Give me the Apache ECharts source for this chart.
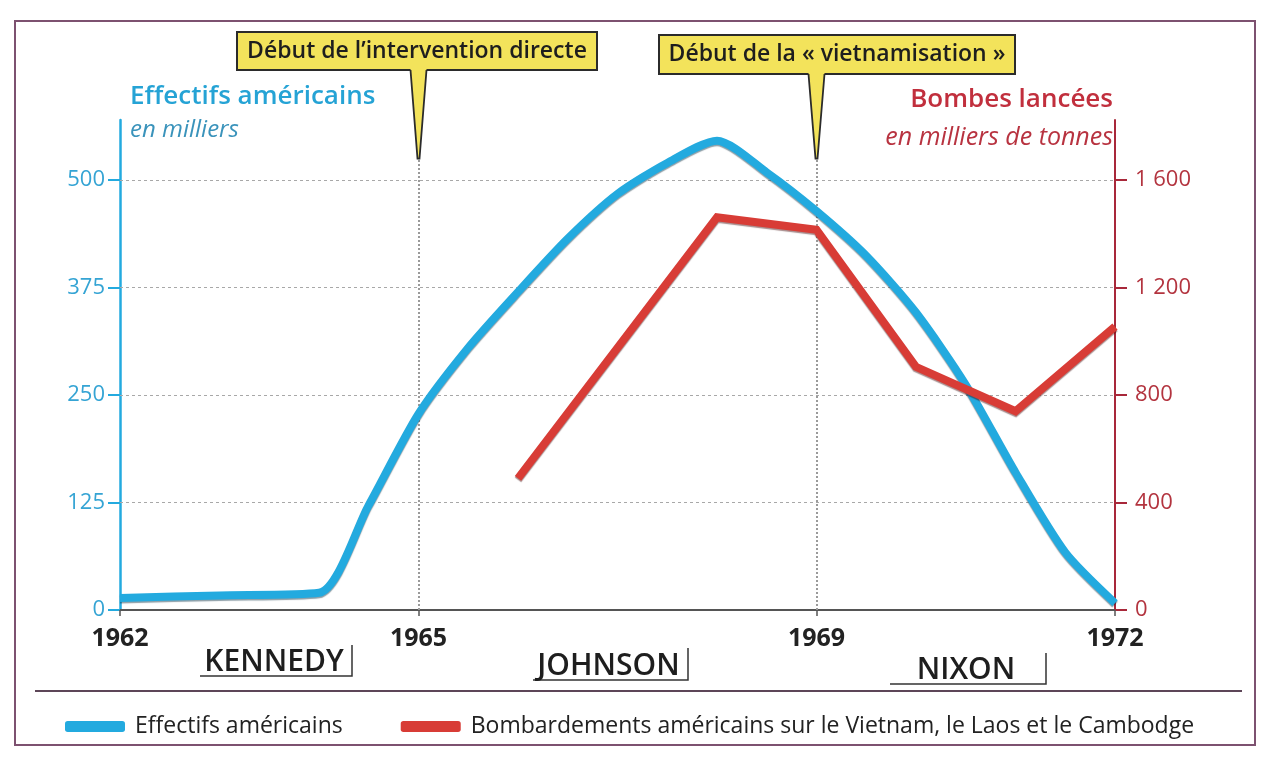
<!DOCTYPE html>
<html>
<head>
<meta charset="utf-8">
<script src="https://cdn.jsdelivr.net/npm/echarts@6/dist/echarts.min.js"></script>
<style>
  html, body { margin: 0; padding: 0; background: #fff; }
  #chart { width: 1267px; height: 758px; }
</style>
</head>
<body>
<div id="chart"></div>
<script>
// effectifs américains (milliers)
const troopYears = [1962, 1963, 1964, 1964.5, 1965, 1965.5, 1966, 1966.5, 1967, 1967.5, 1968, 1968.5, 1969, 1969.5, 1970, 1970.5, 1971, 1971.5, 1972];
const troopValues = [14, 17, 20, 122, 228, 305, 370, 432, 484, 520, 546, 509, 464, 412, 346, 262, 160, 67, 8];

// bombes lancées (milliers de tonnes)
const bombYears = [1966, 1968, 1969, 1970, 1971, 1972];
const bombValues = [490, 1462, 1415, 905, 740, 1055];

const yearTicks = [1962, 1965, 1969, 1972];
const troopTicks = [0, 125, 250, 375, 500];
const bombTicks = [0, 400, 800, 1200, 1600];

const milestoneYears = [1965, 1969];
const milestoneTexts = ['Début de l\u2019intervention directe', 'Début de la « vietnamisation »'];
const presidents = ['KENNEDY', 'JOHNSON', 'NIXON'];

const seriesNames = ['Effectifs américains', 'Bombardements américains sur le Vietnam, le Laos et le Cambodge'];

const BLUE = '#23aadf';
const RED = '#d83c36';
const FONT = '"Open Sans", "Noto Sans", sans-serif';

const chart = echarts.init(document.getElementById('chart'));

const fmtThousands = v => String(v).replace(/\B(?=(\d{3})+$)/g, ' ');

// gridlines + milestone verticals as markLines
const gridMarks = troopTicks.filter(v => v > 0).map(v => ({ yAxis: v }));
const milestoneMarks = milestoneYears.map(y => [
  { coord: [y, 0], lineStyle: { color: '#9a9a9a', width: 2, type: [2, 2] } },
  { coord: [y, 525] }
]);

const option = {
  backgroundColor: '#fff',
  animation: false,
  grid: { left: 120, right: 152, top: 120, bottom: 148, containLabel: false },
  legend: {
    left: 60,
    top: 710,
    itemWidth: 60,
    itemHeight: 11,
    itemGap: 58,
    icon: 'roundRect',
    textStyle: { fontFamily: FONT, fontSize: 23, color: '#222', padding: [0, 0, 0, 5] },
    data: seriesNames
  },
  xAxis: {
    type: 'value',
    min: 1962,
    max: 1972,
    axisLine: { lineStyle: { color: '#555', width: 2 } },
    axisTick: { show: true, length: 6, lineStyle: { color: '#555', width: 1.5 }, customValues: yearTicks },
    axisLabel: {
      customValues: yearTicks,
      margin: 16,
      fontFamily: FONT,
      fontSize: 25,
      fontWeight: 'bold',
      color: '#222',
      formatter: v => String(v)
    },
    splitLine: { show: false }
  },
  yAxis: [
    {
      type: 'value',
      min: 0,
      max: 570,
      position: 'left',
      axisLine: { show: true, lineStyle: { color: BLUE, width: 2.5 } },
      axisTick: { show: true, length: 12, lineStyle: { color: BLUE, width: 2 }, customValues: troopTicks },
      axisLabel: { customValues: troopTicks, margin: 15, fontFamily: FONT, fontSize: 22, color: '#35a4d4' },
      splitLine: { show: false }
    },
    {
      type: 'value',
      min: 0,
      max: 1824,
      position: 'right',
      axisLine: { show: true, lineStyle: { color: '#a8283a', width: 2 } },
      axisTick: { show: true, length: 12, lineStyle: { color: '#a8283a', width: 2 }, customValues: bombTicks },
      axisLabel: {
        customValues: bombTicks,
        margin: 20,
        fontFamily: FONT,
        fontSize: 22,
        color: '#b3343f',
        formatter: fmtThousands
      },
      splitLine: { show: false }
    }
  ],
  series: [
    {
      name: seriesNames[0],
      type: 'line',
      yAxisIndex: 0,
      z: 3,
      smooth: 0.25,
      showSymbol: false,
      symbol: 'none',
      color: BLUE,
      lineStyle: { color: BLUE, width: 8, shadowColor: 'rgba(0,40,60,0.45)', shadowBlur: 1, shadowOffsetY: 1.5 },
      data: troopYears.map((y, i) => [y, troopValues[i]]),
      markLine: {
        silent: true,
        symbol: 'none',
        z: 1,
        label: { show: false },
        lineStyle: { color: '#a8a8a8', width: 1.2, type: [3, 3] },
        data: gridMarks.concat(milestoneMarks)
      }
    },
    {
      name: seriesNames[1],
      type: 'line',
      yAxisIndex: 1,
      z: 4,
      showSymbol: false,
      symbol: 'none',
      color: RED,
      lineStyle: { color: RED, width: 8, join: 'miter', shadowColor: 'rgba(60,0,0,0.45)', shadowBlur: 1, shadowOffsetY: 1.5 },
      data: bombYears.map((y, i) => [y, bombValues[i]])
    }
  ]
};

chart.setOption(option);

// annotations drawn on top
const g = [];

// outer frame and legend separator
g.push({ type: 'rect', shape: { x: 15, y: 21, width: 1240, height: 724 }, style: { fill: 'none', stroke: '#7d5170', lineWidth: 2 }, z: 0, silent: true });
g.push({ type: 'line', shape: { x1: 35, y1: 691, x2: 1242, y2: 691 }, style: { stroke: '#5d4658', lineWidth: 2 }, silent: true });

// axis titles
g.push({ type: 'text', left: 130, top: 84, style: { text: 'Effectifs américains', font: `600 26px ${FONT}`, fill: '#25a3d5' } });
g.push({ type: 'text', left: 130, top: 118, style: { text: 'en milliers', font: `italic 24px ${FONT}`, fill: '#3a93bb' } });
g.push({ type: 'text', right: 154, top: 87, style: { text: 'Bombes lancées', font: `600 26px ${FONT}`, fill: '#c12f3d', align: 'right' } });
g.push({ type: 'text', right: 154, top: 125, style: { text: 'en milliers de tonnes', font: `italic 25px ${FONT}`, fill: '#b83340', align: 'right' } });

// milestone callouts
const boxes = [
  { x: 237, y: 32, w: 360, h: 38 },
  { x: 659, y: 35, w: 356, h: 39 }
];
milestoneYears.forEach((yr, i) => {
  const tip = chart.convertToPixel({ xAxisIndex: 0, yAxisIndex: 0 }, [yr, 525]);
  const b = boxes[i];
  const bot = b.y + b.h;
  g.push({ type: 'rect', shape: { x: b.x, y: b.y, width: b.w, height: b.h }, style: { fill: '#f3e35b', stroke: '#2b2b2b', lineWidth: 2 }, z: 10 });
  g.push({ type: 'polygon', shape: { points: [[tip[0] - 8, bot - 1], [tip[0] + 8, bot - 1], [tip[0] + 1, tip[1]], [tip[0] - 1, tip[1]]] }, style: { fill: '#f3e35b' }, z: 11 });
  g.push({ type: 'polyline', shape: { points: [[tip[0] - 8, bot], [tip[0] - 1, tip[1]], [tip[0] + 1, tip[1]], [tip[0] + 8, bot]] }, style: { stroke: '#2b2b2b', lineWidth: 1.8, fill: null }, z: 12 });
  g.push({ type: 'text', x: b.x + b.w / 2, y: b.y + b.h / 2, style: { text: milestoneTexts[i], font: `600 23px ${FONT}`, fill: '#1e1e1e', align: 'center', verticalAlign: 'middle' }, z: 13 });
});

// presidents under the axis
const presLayout = [
  { x1: 200, x2: 352, y: 676, top: 645 },
  { x1: 533, x2: 688, y: 680, top: 648 },
  { x1: 890, x2: 1046, y: 684, top: 653 }
];
presidents.forEach((name, i) => {
  const p = presLayout[i];
  g.push({ type: 'polyline', shape: { points: [[p.x1, p.y], [p.x2, p.y], [p.x2, p.top]] }, style: { stroke: '#333', lineWidth: 1.5, fill: null } });
  g.push({ type: 'text', x: (i === 2 ? p.x1 + 76 : (p.x1 + p.x2) / 2 - 2), y: p.y + 1, style: { text: name, font: `600 30px ${FONT}`, fill: '#1e1e1e', align: 'center', verticalAlign: 'bottom' } });
});

chart.setOption({ graphic: g });
</script>
</body>
</html>
